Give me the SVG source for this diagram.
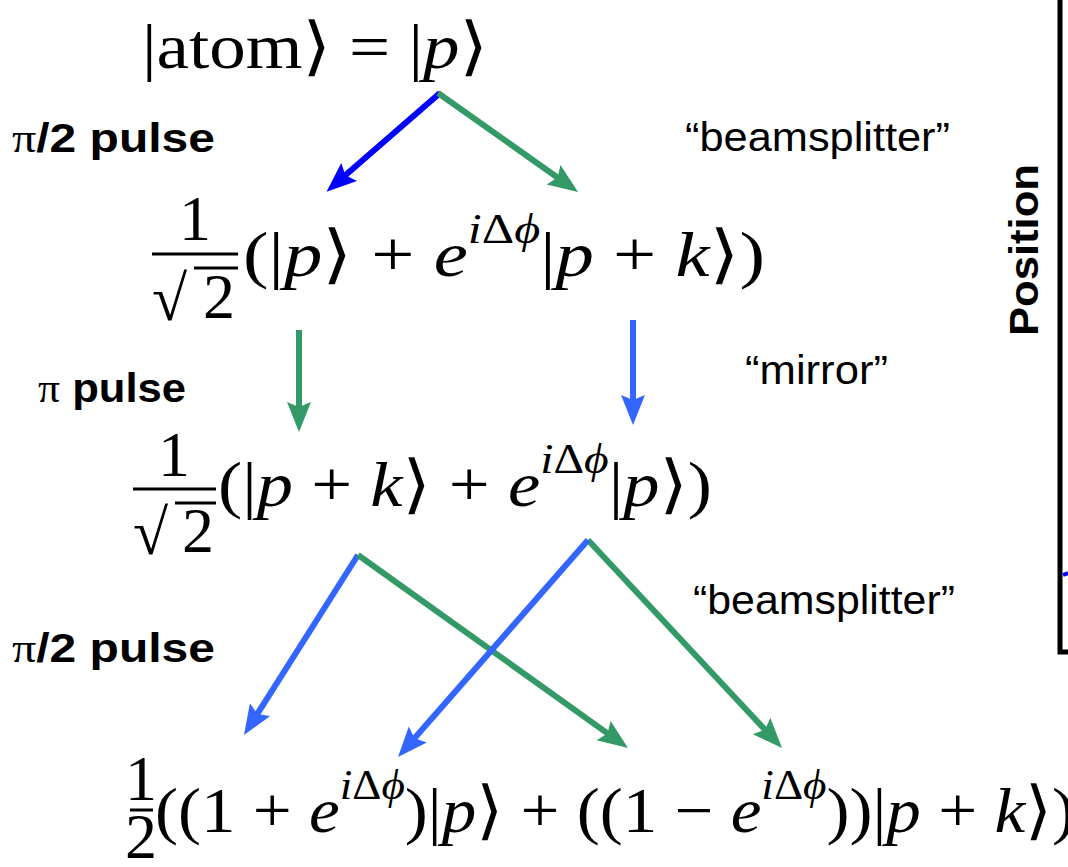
<svg xmlns="http://www.w3.org/2000/svg" width="1068" height="867" viewBox="0 0 1068 867">
<style>
.m{font-family:"Liberation Serif","DejaVu Serif",serif;font-size:64px;fill:#000}
.s{font-size:42px}
.i{font-style:italic}
.lbl{font-family:"Liberation Sans",Arial,sans-serif;font-size:40px;fill:#000}
.b{font-weight:bold}
.pi{font-family:"Liberation Serif","DejaVu Serif",serif;font-weight:normal}
.bar{stroke:#000;stroke-width:3}
.a{fill:none;stroke-width:6}
.g{stroke:#339966}
.bl{stroke:#3366FF}
.bd{stroke:#0000FF}
</style>
<defs>
<marker id="hg" markerUnits="userSpaceOnUse" markerWidth="32" markerHeight="26" refX="10" refY="12" orient="auto"><path d="M0,0 L30,12 L0,24 L5,12 z" fill="#339966"/></marker>
<marker id="hb" markerUnits="userSpaceOnUse" markerWidth="32" markerHeight="26" refX="10" refY="12" orient="auto"><path d="M0,0 L30,12 L0,24 L5,12 z" fill="#3366FF"/></marker>
<marker id="hd" markerUnits="userSpaceOnUse" markerWidth="32" markerHeight="26" refX="10" refY="12" orient="auto"><path d="M0,0 L30,12 L0,24 L5,12 z" fill="#0000FF"/></marker>
</defs>
<rect width="1068" height="867" fill="#fff"/>

<g id="state0">
<text class="m" x="142" y="68" font-size="70" textLength="346" lengthAdjust="spacingAndGlyphs">|atom⟩ = |<tspan class="i">p</tspan>⟩</text>
</g>

<g id="state1">
<text class="m" x="195" y="240" text-anchor="middle">1</text>
<line class="bar" x1="152" y1="254" x2="238" y2="254"/>
<text class="m" x="152" y="320" font-size="72">√</text>
<line class="bar" x1="194" y1="268" x2="238" y2="268"/>
<text class="m" x="203" y="318">2</text>
<text class="m" x="243" y="276" textLength="522" lengthAdjust="spacingAndGlyphs">(|<tspan class="i">p</tspan>⟩ + <tspan class="i">e</tspan><tspan class="s" dy="-33"><tspan class="i">i</tspan>Δ<tspan class="i">ϕ</tspan></tspan><tspan dy="33">|</tspan><tspan class="i">p</tspan> + <tspan class="i">k</tspan>⟩)</text>
</g>

<g id="state2">
<text class="m" x="174" y="476" text-anchor="middle">1</text>
<line class="bar" x1="133" y1="489" x2="216" y2="489"/>
<text class="m" x="133" y="554" font-size="72">√</text>
<line class="bar" x1="175" y1="503" x2="216" y2="503"/>
<text class="m" x="182" y="552">2</text>
<text class="m" x="218" y="506" textLength="494" lengthAdjust="spacingAndGlyphs">(|<tspan class="i">p</tspan> + <tspan class="i">k</tspan>⟩ + <tspan class="i">e</tspan><tspan class="s" dy="-33"><tspan class="i">i</tspan>Δ<tspan class="i">ϕ</tspan></tspan><tspan dy="33">|</tspan><tspan class="i">p</tspan>⟩)</text>
</g>

<g id="state3">
<text class="m" x="141" y="800" font-size="58" text-anchor="middle">1</text>
<line class="bar" x1="130" y1="810" x2="153" y2="810"/>
<text class="m" x="141" y="858" font-size="58" text-anchor="middle">2</text>
<text class="m" x="155" y="832" textLength="920" lengthAdjust="spacingAndGlyphs">((1 + <tspan class="i">e</tspan><tspan class="s" dy="-33"><tspan class="i">i</tspan>Δ<tspan class="i">ϕ</tspan></tspan><tspan dy="33">)|</tspan><tspan class="i">p</tspan>⟩ + ((1 − <tspan class="i">e</tspan><tspan class="s" dy="-33"><tspan class="i">i</tspan>Δ<tspan class="i">ϕ</tspan></tspan><tspan dy="33">))|</tspan><tspan class="i">p</tspan> + <tspan class="i">k</tspan>⟩)</text>
</g>

<g id="labels">
<text class="lbl b" x="12" y="152" textLength="203" lengthAdjust="spacingAndGlyphs"><tspan class="pi">π</tspan>/2 pulse</text>
<text class="lbl b" x="38" y="402" textLength="148" lengthAdjust="spacingAndGlyphs"><tspan class="pi">π</tspan> pulse</text>
<text class="lbl b" x="12" y="662" textLength="203" lengthAdjust="spacingAndGlyphs"><tspan class="pi">π</tspan>/2 pulse</text>
<text class="lbl" x="685" y="151" textLength="265" lengthAdjust="spacingAndGlyphs">“beamsplitter”</text>
<text class="lbl" x="745" y="384" textLength="143" lengthAdjust="spacingAndGlyphs">“mirror”</text>
<text class="lbl" x="693" y="614" textLength="262" lengthAdjust="spacingAndGlyphs">“beamsplitter”</text>
</g>

<g id="plot">
<text class="lbl b" transform="translate(1038,336) rotate(-90)" textLength="172" lengthAdjust="spacingAndGlyphs">Position</text>
<path d="M1060,0 V652 H1068" fill="none" stroke="#000" stroke-width="5"/>
<line x1="1063" y1="575" x2="1068" y2="573" stroke="#0000FF" stroke-width="4"/>
</g>

<g id="connectors">
<line class="a bd" x1="440" y1="93" x2="341.6" y2="178.6" marker-end="url(#hd)"/>
<line class="a g" x1="438" y1="93" x2="561.7" y2="180.5" marker-end="url(#hg)"/>
<line class="a g" x1="299" y1="330" x2="299" y2="412" marker-end="url(#hg)"/>
<line class="a bl" x1="633" y1="320" x2="633" y2="405" marker-end="url(#hb)"/>
<line class="a bl" x1="358" y1="555" x2="254.7" y2="718.1" marker-end="url(#hb)"/>
<line class="a g" x1="358" y1="555" x2="611.7" y2="736.4" marker-end="url(#hg)"/>
<line class="a g" x1="588" y1="540" x2="768.4" y2="733.4" marker-end="url(#hg)"/>
<line class="a bl" x1="588" y1="540" x2="411.2" y2="742" marker-end="url(#hb)"/>
</g>
</svg>
